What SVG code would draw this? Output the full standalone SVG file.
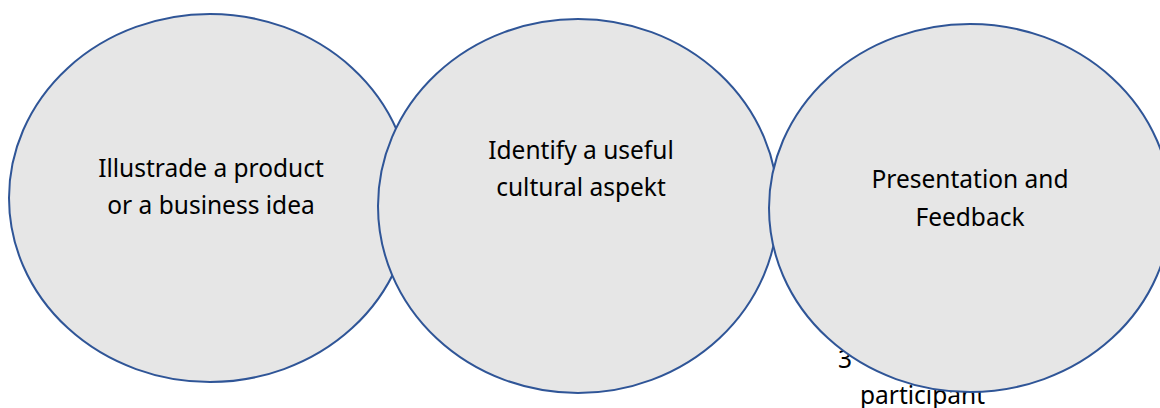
<svg xmlns="http://www.w3.org/2000/svg" width="1160" height="408" viewBox="0 0 1160 408">
  <style>
    .step { fill: #e6e6e6; stroke: #2f5597; stroke-width: 2; }
    .label { font-family: "Noto Sans", "Open Sans", sans-serif; font-size: 24.5px; fill: #000; text-anchor: middle; }
    .note { font-family: "Noto Sans", "Open Sans", sans-serif; font-size: 24.5px; fill: #000; }
  </style>
  <rect width="1160" height="408" fill="#ffffff"/>

  <g id="step-1">
    <ellipse class="step" cx="210" cy="198" rx="201" ry="184"/>
    <text class="label" x="211" y="177">Illustrade a product</text>
    <text class="label" x="211" y="214">or a business idea</text>
  </g>

  <g id="step-2">
    <ellipse class="step" cx="578" cy="206" rx="200" ry="187"/>
    <text class="label" x="581" y="159">Identify a useful</text>
    <text class="label" x="581" y="196">cultural aspekt</text>
  </g>

  <!-- caption partly covered by the last circle -->
  <g id="caption">
    <text class="note" x="838" y="368">3</text>
    <text class="note" x="860" y="404">participant</text>
  </g>

  <g id="step-3">
    <ellipse class="step" cx="970" cy="208" rx="201" ry="184"/>
    <text class="label" x="970" y="188">Presentation and</text>
    <text class="label" x="970" y="226">Feedback</text>
  </g>

  <g id="connectors"/>
</svg>
